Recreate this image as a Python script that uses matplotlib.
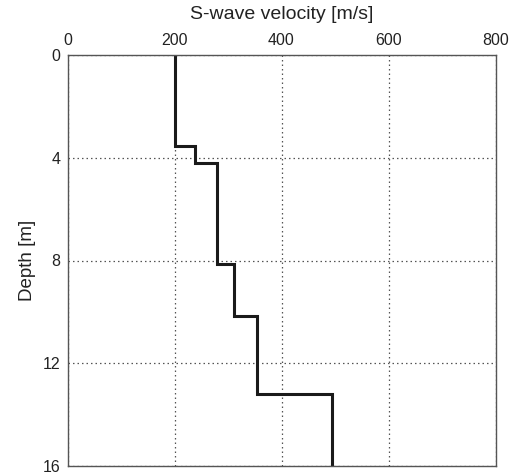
import numpy as np
import matplotlib
matplotlib.use("Agg")
import matplotlib.pyplot as plt

plt.rcParams["font.family"] = ["Liberation Sans", "DejaVu Sans"]

# layer boundaries [m] and S-wave velocity of each layer [m/s]
depth_bounds = [0, 3.55, 4.2, 8.15, 10.15, 13.2, 16]
vs_layers = [200, 238, 280, 311, 355, 495]

x_ticks = [0, 200, 400, 600, 800]
y_ticks = [0, 4, 8, 12, 16]

# staircase profile
vs_line = np.repeat(vs_layers, 2)
depth_line = np.column_stack([depth_bounds[:-1], depth_bounds[1:]]).ravel()

fig = plt.figure(figsize=(5.18, 4.76), dpi=100)
ax = fig.add_axes([67.5 / 518, 1 - 466 / 476, 428 / 518, 411 / 476])

ax.plot(vs_line, depth_line, color="#1a1a1a", lw=2.2, solid_joinstyle="miter")

ax.set_xlim(0, 800)
ax.set_ylim(16, 0)
ax.set_xticks(x_ticks)
ax.set_yticks(y_ticks)
ax.xaxis.tick_top()
ax.xaxis.set_label_position("top")
ax.tick_params(length=0, labelsize=11.5, pad=5, colors="#222222")
ax.set_xlabel("S-wave velocity [m/s]", fontsize=14, labelpad=10, color="#222222")
ax.set_ylabel("Depth [m]", fontsize=13.5, labelpad=5, color="#222222")
ax.grid(True, color="#555555", linestyle=(0, (1.2, 2.4)), lw=0.9)
for s in ax.spines.values():
    s.set_color("#555555")
    s.set_linewidth(1.0)

fig.savefig("out.png", dpi=100)
